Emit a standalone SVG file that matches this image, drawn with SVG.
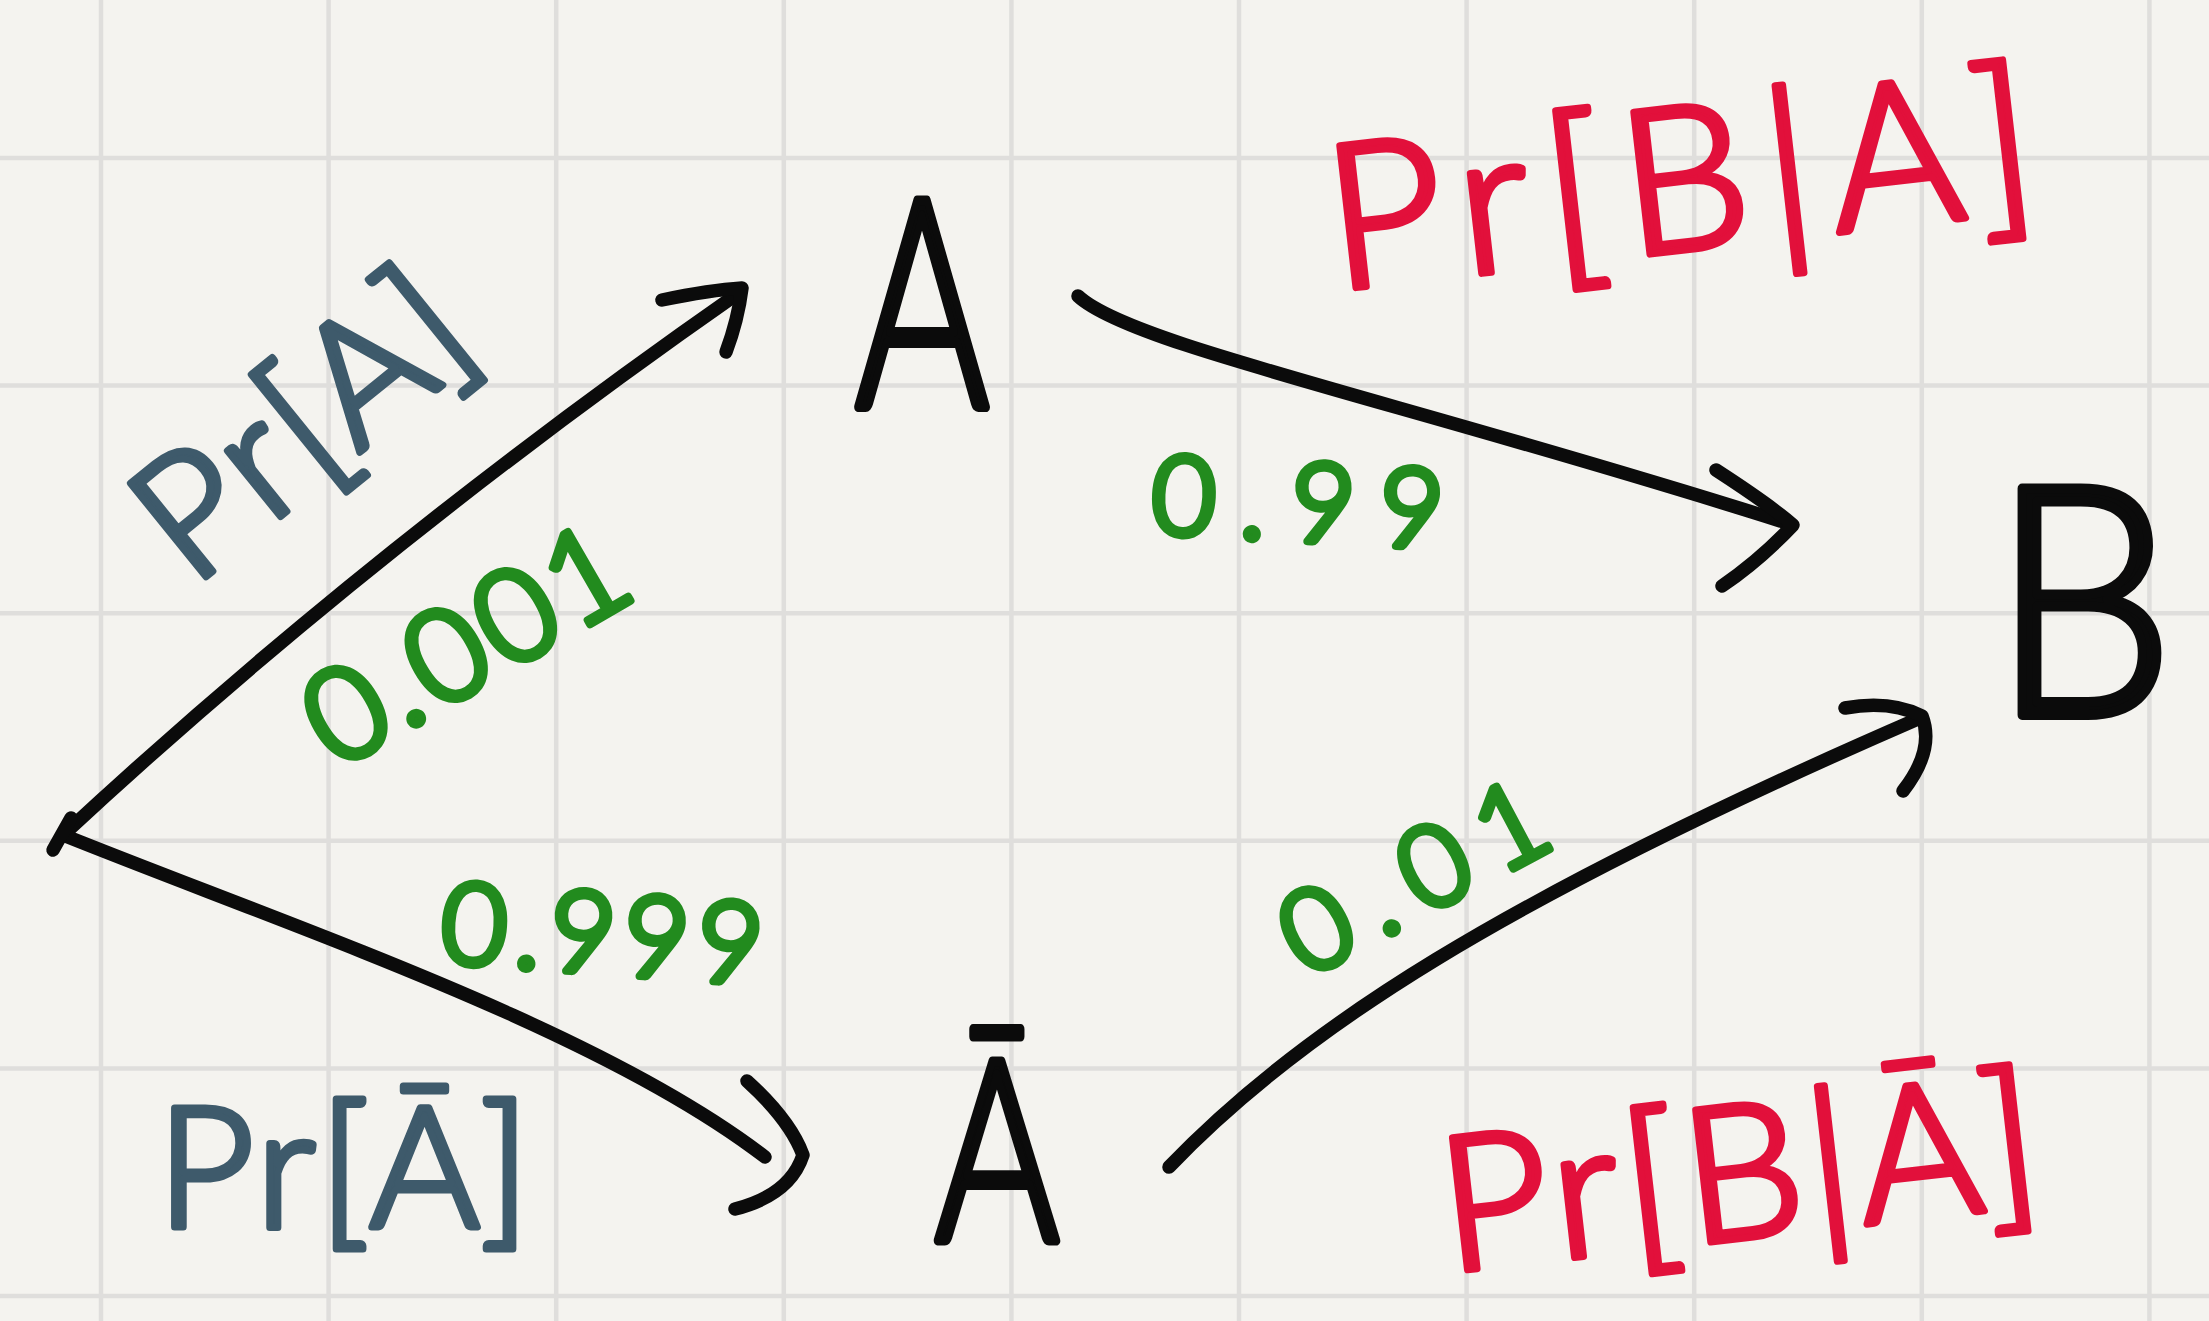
<svg xmlns="http://www.w3.org/2000/svg" width="2209" height="1321" viewBox="0 0 2209 1321">
<style>
.bg{fill:#f4f3ef}
.grid line{stroke:#dfdedc;stroke-width:4.5}
.edge{fill:none;stroke:#0b0b0b;stroke-width:13.5;stroke-linecap:round;stroke-linejoin:round}
.hw{font-family:Lato,'Liberation Sans',sans-serif;font-weight:300;stroke-linejoin:round}
.node{fill:#0b0b0b;stroke:#0b0b0b;stroke-width:10}
.num{fill:#228b1e;stroke:#228b1e;stroke-width:8}
.pr{fill:#3e5a6b;stroke:#3e5a6b;stroke-width:7}
.cond{fill:#e2103b;stroke:#e2103b;stroke-width:7}
</style>
<rect class="bg" x="0" y="0" width="2209" height="1321"/>
<g class="grid">
<line x1="101" y1="0" x2="101" y2="1321"/>
<line x1="328.6" y1="0" x2="328.6" y2="1321"/>
<line x1="556.2" y1="0" x2="556.2" y2="1321"/>
<line x1="783.8" y1="0" x2="783.8" y2="1321"/>
<line x1="1011.4" y1="0" x2="1011.4" y2="1321"/>
<line x1="1239" y1="0" x2="1239" y2="1321"/>
<line x1="1466.6" y1="0" x2="1466.6" y2="1321"/>
<line x1="1694.2" y1="0" x2="1694.2" y2="1321"/>
<line x1="1921.8" y1="0" x2="1921.8" y2="1321"/>
<line x1="2149.4" y1="0" x2="2149.4" y2="1321"/>
<line x1="0" y1="158" x2="2209" y2="158"/>
<line x1="0" y1="385.6" x2="2209" y2="385.6"/>
<line x1="0" y1="613.2" x2="2209" y2="613.2"/>
<line x1="0" y1="840.8" x2="2209" y2="840.8"/>
<line x1="0" y1="1068.4" x2="2209" y2="1068.4"/>
<line x1="0" y1="1296" x2="2209" y2="1296"/>
</g>
<g id="connectors">
<path class="edge" d="M63,835 Q370,550 740,292"/>
<path class="edge" d="M662,300 Q710,290 742,288 Q738,320 726,352"/>
<path class="edge" d="M1078,296 C1130,345 1400,400 1790,524"/>
<path class="edge" d="M1716,470 Q1770,505 1793,525 Q1760,560 1722,586"/>
<path class="edge" d="M63,835 C300,930 600,1030 765,1157"/>
<path class="edge" d="M747,1081 Q790,1120 803,1155 Q790,1195 735,1209"/>
<path class="edge" d="M1169,1167 C1300,1030 1500,900 1920,718"/>
<path class="edge" d="M1845,708 Q1890,700 1922,716 Q1935,750 1903,791"/>
</g>
<g id="node-start">
<line class="edge" x1="53" y1="850" x2="71" y2="818"/>
</g>
<g id="node-A">
<text class="hw node" transform="translate(922,407) scale(0.7,1)" text-anchor="middle" font-size="292">A</text>
</g>
<g id="node-Abar">
<text class="hw node" transform="translate(997,1240) scale(0.75,1)" text-anchor="middle" font-size="252">Ā</text>
</g>
<g id="node-B">
<text class="hw node" transform="translate(2083,715) scale(0.9,1)" text-anchor="middle" font-size="320">B</text>
</g>
<g id="labels">
<text class="hw pr" transform="translate(338,470) rotate(-39)" text-anchor="middle" font-size="170" textLength="375">Pr[A]</text>
<text class="hw pr" x="157" y="1227" font-size="168" textLength="373">Pr[Ā]</text>
<text class="hw num" transform="translate(488,683) rotate(-30)" text-anchor="middle" font-size="128" textLength="350">0.001</text>
<text class="hw num" transform="translate(439,962) rotate(4)" font-size="113" textLength="322">0.999</text>
<text class="hw num" transform="translate(1150,533) rotate(3)" font-size="110" textLength="292">0.99</text>
<text class="hw num" transform="translate(1432,912) rotate(-28)" text-anchor="middle" font-size="113" textLength="285">0.01</text>
<text class="hw cond" transform="translate(1335,290) rotate(-6.5)" font-size="202" textLength="710">Pr[B|A]</text>
<text class="hw cond" transform="translate(1448,1272) rotate(-6.5)" font-size="188" textLength="600">Pr[B|Ā]</text>
</g>
</svg>
